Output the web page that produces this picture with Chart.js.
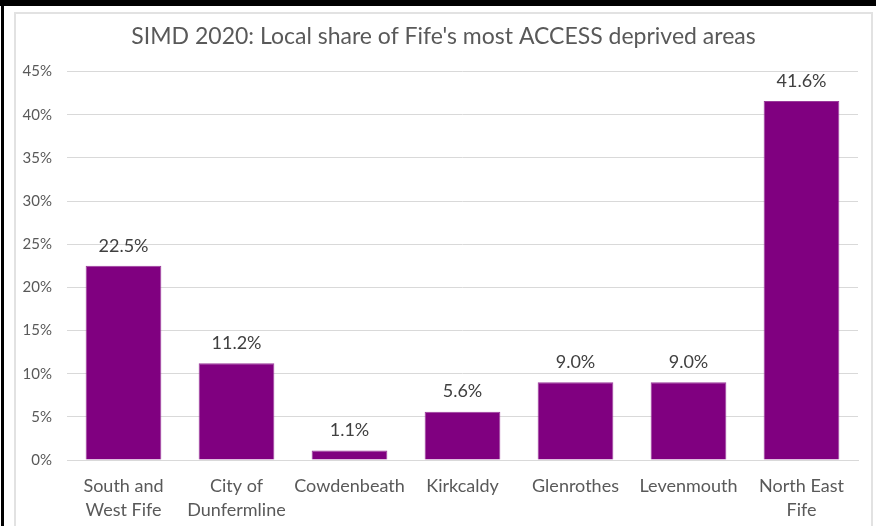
<!DOCTYPE html>
<html>
<head>
<meta charset="utf-8">
<script src="https://cdn.jsdelivr.net/npm/chart.js@4/dist/chart.umd.min.js"></script>
<style>
  html, body { margin: 0; padding: 0; background: #fff; width: 876px; height: 526px; overflow: hidden; }
  .top-band { position: absolute; left: 0; top: 0; width: 876px; height: 6px; background: #000; }
  .left-band { position: absolute; left: 1px; top: 0; width: 3px; height: 526px; background: #000; }
  .box { position: absolute; left: 14px; top: 12px; width: 859px; height: 516px; border: 2px solid #e2e2e2; box-sizing: border-box; }
  .wrap { position: absolute; left: 14px; top: 12px; width: 859px; height: 514px; }
</style>
</head>
<body>
<div class="top-band"></div>
<div class="left-band"></div>
<div class="box"></div>
<div class="wrap"><canvas id="accessChart"></canvas></div>
<script>
// SIMD 2020 – share of Fife's most access deprived data zones by area (%)
const AREAS = [
  ['South and', 'West Fife'],
  ['City of', 'Dunfermline'],
  'Cowdenbeath',
  'Kirkcaldy',
  'Glenrothes',
  'Levenmouth',
  ['North East', 'Fife']
];
const SHARE = [22.5, 11.2, 1.1, 5.6, 9.0, 9.0, 41.6];
const Y_TICKS = [0, 5, 10, 15, 20, 25, 30, 35, 40, 45];

const barColor = '#800080';
const textMuted = '#595959';
const textDark = '#404040';
const gridColor = '#d9d9d9';
const fontFamily = 'Lato, "Open Sans", sans-serif';

new Chart(document.getElementById('accessChart'), {
  type: 'bar',
  data: {
    labels: AREAS,
    datasets: [{
      data: SHARE,
      backgroundColor: barColor,
      borderColor: '#9a3a9a',
      borderWidth: 1,
      barPercentage: 0.67,
      categoryPercentage: 1
    }]
  },
  options: {
    responsive: true,
    maintainAspectRatio: false,
    animation: false,
    layout: { padding: 0 },
    plugins: {
      legend: { display: false },
      tooltip: { enabled: false },
      title: {
        display: true,
        text: "SIMD 2020: Local share of Fife's most ACCESS deprived areas",
        color: textMuted,
        font: { family: fontFamily, size: 23, weight: 'normal', lineHeight: 1.2 },
        padding: { top: 11, bottom: 21 }
      }
    },
    scales: {
      x: {
        grid: { display: false },
        border: { display: true, color: gridColor, width: 1 },
        ticks: {
          color: textMuted,
          font: { family: fontFamily, size: 18, lineHeight: 1.333 },
          padding: 6,
          maxRotation: 0,
          autoSkip: false
        },
        afterFit: s => { s.height = 66; }
      },
      y: {
        min: 0, max: 45,
        grid: { color: gridColor, drawTicks: false },
        border: { display: false },
        afterBuildTicks: s => { s.ticks = Y_TICKS.map(v => ({ value: v })); },
        ticks: {
          color: textMuted,
          font: { family: fontFamily, size: 15 },
          padding: 15,
          callback: v => v + '%'
        },
        afterFit: s => { s.width = 53; }
      },
      // empty right-hand gutter so the title stays centred on the whole box
      gutter: {
        type: 'linear',
        position: 'right',
        grid: { display: false },
        border: { display: false },
        ticks: { display: false },
        afterFit: s => { s.width = 15; }
      }
    }
  },
  plugins: [{
    id: 'barValues',
    afterDatasetsDraw(chart) {
      const ctx = chart.ctx;
      const meta = chart.getDatasetMeta(0);
      ctx.save();
      ctx.textAlign = 'center';
      ctx.textBaseline = 'middle';
      ctx.font = '18px ' + fontFamily;
      ctx.fillStyle = textDark;
      meta.data.forEach((bar, i) => {
        ctx.fillText(SHARE[i].toFixed(1) + '%', bar.x, bar.y - 20);
      });
      ctx.restore();
    }
  }]
});
</script>
</body>
</html>
